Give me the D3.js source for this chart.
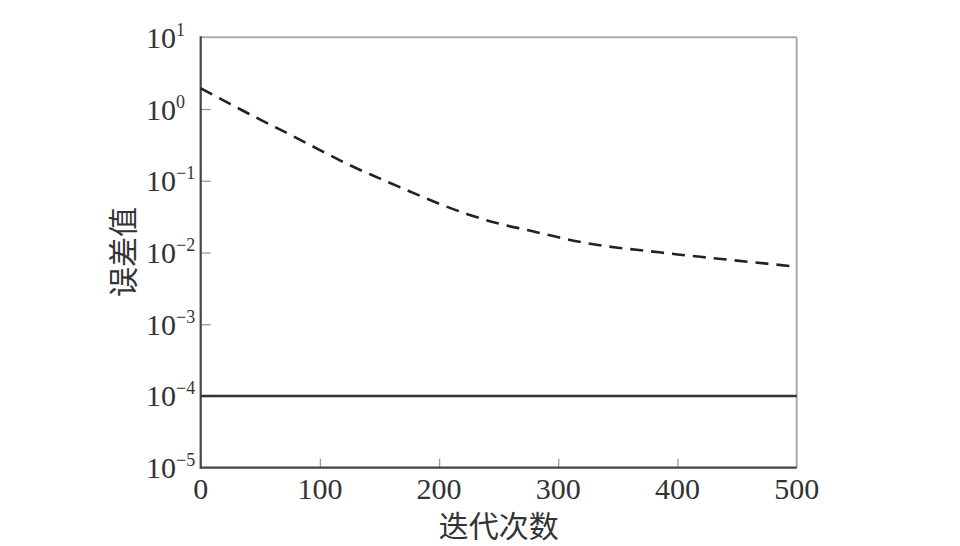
<!DOCTYPE html>
<html>
<head>
<meta charset="utf-8">
<script src="https://cdn.jsdelivr.net/npm/d3@7/dist/d3.min.js"></script>
<style>
  html, body { margin: 0; padding: 0; background: #fff; }
  svg { display: block; }
</style>
</head>
<body>
<svg id="chart" width="960" height="546"></svg>
<script>
// ---- data ----
const iterations = [0, 25, 50, 75, 100, 125, 150, 175, 200, 225, 250, 275, 300, 325, 350, 375, 400, 425, 450, 475, 500];
const errorDashed = [1.95, 1.17, 0.71, 0.44, 0.268, 0.165, 0.108, 0.0715, 0.0479, 0.0337, 0.0253, 0.0204, 0.0163, 0.0134, 0.01167, 0.0105, 0.0094, 0.0085, 0.0077, 0.0070, 0.00634];
const solidIter = [0, 500];
const errorSolid = [1e-4, 1e-4];
const xTicks = [0, 100, 200, 300, 400, 500];
const yTickExps = [1, 0, -1, -2, -3, -4, -5];
const xTitle = "迭代次数";
const yTitle = "误差值";

// ---- layout ----
const svg = d3.select("#chart");
const L = 200.7, R = 796.7, T = 37.3, B = 467.7;

const x = d3.scaleLinear().domain([0, 500]).range([L, R]);
const y = d3.scaleLog().domain([1e-5, 10]).range([B, T]);

const serif = "'Liberation Serif', 'DejaVu Serif', serif";
const cjk = "'Noto Sans CJK SC', sans-serif";

// inner ticks
const gx = svg.append("g").attr("transform", `translate(0,${B})`)
  .call(d3.axisBottom(x).tickValues(xTicks.filter(d => d > 0 && d < 500)).tickSize(-9).tickFormat(""));
gx.select(".domain").remove();
gx.selectAll(".tick line").attr("stroke", "#999").attr("stroke-width", 1.3);

const gy = svg.append("g").attr("transform", `translate(${L},0)`)
  .call(d3.axisLeft(y).tickValues(yTickExps.filter(e => e > -5 && e < 1).map(e => Math.pow(10, e))).tickSize(-10).tickFormat(""));
gy.select(".domain").remove();
gy.selectAll(".tick line").attr("stroke", "#999").attr("stroke-width", 1.3);

// frame: top/right light, left/bottom dark
svg.append("line").attr("x1", L).attr("x2", R).attr("y1", T).attr("y2", T).attr("stroke", "#aaa").attr("stroke-width", 2);
svg.append("line").attr("x1", R).attr("x2", R).attr("y1", T).attr("y2", B).attr("stroke", "#aaa").attr("stroke-width", 2);
svg.append("line").attr("x1", L).attr("x2", R).attr("y1", B).attr("y2", B).attr("stroke", "#444").attr("stroke-width", 2.2);
svg.append("line").attr("x1", L).attr("x2", L).attr("y1", T - 1).attr("y2", B + 1).attr("stroke", "#444").attr("stroke-width", 2.2);

// lines
const line = d3.line().x(d => x(d[0])).y(d => y(d[1]));
svg.append("path")
  .datum(iterations.map((d, i) => [d, errorDashed[i]]))
  .attr("d", line.curve(d3.curveMonotoneX))
  .attr("fill", "none").attr("stroke", "#222").attr("stroke-width", 2.6)
  .attr("stroke-dasharray", "13,8");

svg.append("path")
  .datum(solidIter.map((d, i) => [d, errorSolid[i]]))
  .attr("d", d3.line().x(d => x(d[0])).y(d => y(d[1])))
  .attr("fill", "none").attr("stroke", "#333").attr("stroke-width", 2.4);

// x tick labels
svg.append("g").selectAll("text").data(xTicks).join("text")
  .attr("x", d => x(d)).attr("y", B + 31)
  .attr("text-anchor", "middle")
  .attr("font-family", serif).attr("font-size", 30).attr("fill", "#333")
  .text(d => d);

// y tick labels with superscripts
const yl = svg.append("g").selectAll("text").data(yTickExps).join("text")
  .attr("x", 146).attr("y", d => y(Math.pow(10, d)) + 10.5)
  .attr("font-family", serif).attr("font-size", 30).attr("fill", "#333");
yl.append("tspan").text("10");
yl.append("tspan").attr("dy", -12).attr("font-size", 18)
  .text(d => d < 0 ? "\u2212" + Math.abs(d) : String(d));

// axis titles
svg.append("text").attr("x", (L + R) / 2).attr("y", 537)
  .attr("text-anchor", "middle")
  .attr("font-family", cjk).attr("font-size", 30).attr("fill", "#333")
  .text(xTitle);

svg.append("text")
  .attr("transform", `translate(134,252) rotate(-90)`)
  .attr("text-anchor", "middle")
  .attr("font-family", cjk).attr("font-size", 30).attr("fill", "#333")
  .text(yTitle);
</script>
</body>
</html>
